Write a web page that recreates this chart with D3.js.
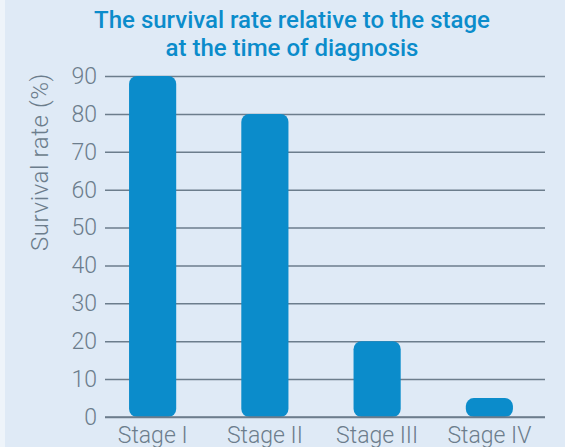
<!DOCTYPE html>
<html><head><meta charset="utf-8">
<script src="https://cdn.jsdelivr.net/npm/d3@7"></script>
<style>
html,body{margin:0;padding:0;background:#eef4fa;}
svg{display:block;}
</style></head>
<body>
<svg id="chart" width="565" height="447"></svg>
<script>
const categories = ["Stage I", "Stage II", "Stage III", "Stage IV"];
const values = [90, 80, 20, 5];
const yTicks = [0, 10, 20, 30, 40, 50, 60, 70, 80, 90];
const titleLines = ["The survival rate relative to the stage", "at the time of diagnosis"];
const yTitle = "Survival rate (%)";

(function () {
const W = 565, H = 447;
const svg = d3.select("#chart");
svg.append("rect").attr("x", 5).attr("y", 0).attr("width", W - 5).attr("height", H).attr("fill", "#dfeaf6");

const gLeft = 105, mRight = 545, mTop = 76, mBottom = 417;
const x = d3.scaleBand().domain(categories).range([96.5, 545.5]).paddingInner(0.58).paddingOuter(0.29);
const y = d3.scaleLinear().domain([0, 90]).range([mBottom, mTop]);

const gray = "#6c7d8c";
const font = "Roboto, 'DejaVu Sans', sans-serif";

const yAxis = d3.axisLeft(y).tickValues(yTicks).tickSize(-(mRight - gLeft)).tickPadding(8).tickFormat(d3.format("d"));
const gy = svg.append("g").attr("transform", `translate(${gLeft},0)`).call(yAxis);
gy.select(".domain").remove();
gy.selectAll(".tick line").attr("stroke", gray).attr("stroke-width", 1.5);
gy.selectAll(".tick text").attr("fill", gray).attr("font-family", font).attr("font-weight", 300).attr("font-size", 23);

svg.append("g").selectAll("rect").data(values).join("rect")
  .attr("x", (d, i) => x(categories[i]))
  .attr("y", d => y(d))
  .attr("width", x.bandwidth())
  .attr("height", d => y(0) - y(d))
  .attr("rx", 8).attr("ry", 8)
  .attr("fill", "#0b8ccb");

svg.append("line").attr("x1", gLeft).attr("x2", mRight).attr("y1", y(0)).attr("y2", y(0)).attr("stroke", gray).attr("stroke-width", 1.5);

const xAxis = d3.axisBottom(x).tickSize(0).tickPadding(10);
const gx = svg.append("g").attr("transform", `translate(0,${mBottom})`).call(xAxis);
gx.select(".domain").remove();
gx.selectAll(".tick text").attr("fill", gray).attr("font-family", font).attr("font-weight", 300).attr("font-size", 23);

svg.append("text").attr("transform", `translate(48,162) rotate(-90)`)
  .attr("text-anchor", "middle").attr("fill", gray).attr("font-family", font).attr("font-weight", 300).attr("font-size", 24)
  .attr("letter-spacing", 0.6)
  .text(yTitle);

svg.append("g").selectAll("text").data(titleLines).join("text")
  .attr("x", 292).attr("y", (d, i) => 28 + i * 28)
  .attr("text-anchor", "middle").attr("fill", "#0b8ccb").attr("font-family", font).attr("font-weight", 500).attr("font-size", 24)
  .text(d => d);
})();
</script>
</body></html>
